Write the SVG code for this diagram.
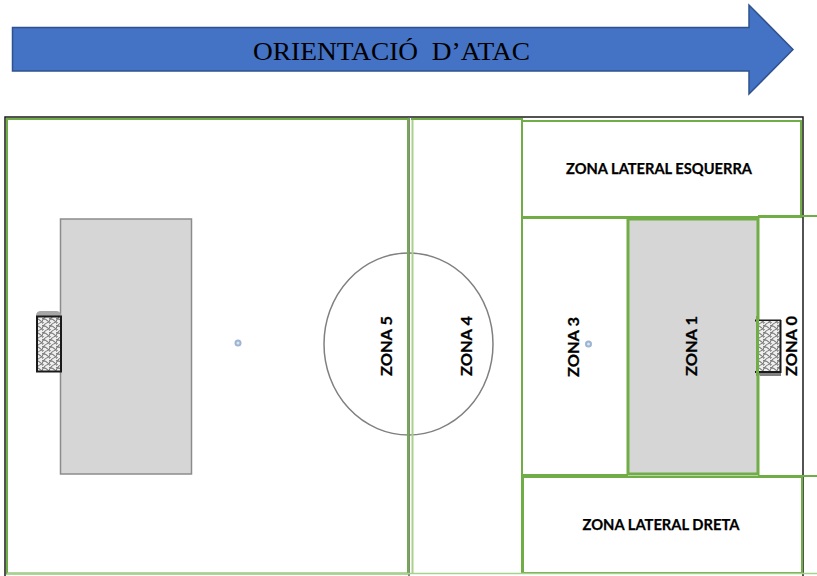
<svg xmlns="http://www.w3.org/2000/svg" width="817" height="576" viewBox="0 0 817 576">
<style>
.g{fill:none;stroke:#70ad47;stroke-width:2}
.gt{fill:none;stroke:#70ad47;stroke-width:3}
.k{fill:none;stroke:#1a1a1a;stroke-width:1.500}
.pen{fill:#d6d6d6;stroke:#8c8c8c;stroke-width:1.500}
.t{font-family:Lato,"Liberation Sans",sans-serif;font-weight:700;font-size:15px;fill:#000;stroke:#000;stroke-width:.25}
.dot{fill:#dbe5f1;stroke:#9db5d3;stroke-width:2}
</style>
<defs>
<pattern id="net" width="7" height="7" patternUnits="userSpaceOnUse">
<rect width="7" height="7" fill="#efefef"/>
<path d="M0 7Q1 2 7 0M0 3.500Q4 3.500 7 7M-1 2Q1 1 2 -1" fill="none" stroke="#7a7a7a" stroke-width="1.100"/>
</pattern>
</defs>
<g id="arrow">
<path d="M12.500 27.500H749V5L793 49.500L749 94V71H12.500Z" fill="#4472c4" stroke="#2f528f" stroke-width="1.500"/>
<text x="253" y="60" font-family="Liberation Serif,serif" font-size="26" fill="#000" textLength="277" lengthAdjust="spacingAndGlyphs" xml:space="preserve">ORIENTACIÓ  D’ATAC</text>
</g>
<g id="field">
<rect class="k" x="5" y="117" width="798" height="460"/>
<line x1="409" y1="117" x2="409" y2="576" stroke="#5f5f5f" stroke-width="1.500"/>
</g>
<g id="left-penalty">
<rect class="pen" x="60.500" y="219" width="131" height="255"/>
</g>
<g id="left-goal">
<path d="M36 316Q36 311 41 311H56Q61 311 61 316Z" fill="#a6a6a6"/>
<rect x="37" y="316.500" width="24" height="55" fill="url(#net)" stroke="#1a1a1a" stroke-width="2"/>
</g>
<g id="left-spot"><circle class="dot" cx="238" cy="343" r="2.500"/></g>
<g id="center-circle"><ellipse cx="408.500" cy="344" rx="84.500" ry="91" fill="none" stroke="#808080" stroke-width="1.500"/></g>
<g id="zona-5">
<rect class="g" x="7" y="119" width="401" height="454.500"/>
<text class="t" transform="translate(392,376) rotate(-90)" textLength="60" lengthAdjust="spacingAndGlyphs">ZONA 5</text>
</g>
<g id="zona-4">
<path d="M412.500 119V573.500" fill="none" stroke="#a9d18e" stroke-width="2"/>
<path class="g" d="M411 119H522V573.500"/>
<text class="t" transform="translate(472,376) rotate(-90)" textLength="60" lengthAdjust="spacingAndGlyphs">ZONA 4</text>
</g>
<g id="zona-lateral-esquerra">
<rect class="g" x="522" y="121" width="279" height="96"/>
<text class="t" x="566" y="173.500" textLength="186" lengthAdjust="spacingAndGlyphs">ZONA LATERAL ESQUERRA</text>
</g>
<g id="zona-1">
<rect x="628" y="219" width="130" height="255" fill="#d6d6d6"/>
<rect class="gt" x="628" y="219" width="130" height="255"/>
<text class="t" transform="translate(697,376) rotate(-90)" textLength="60" lengthAdjust="spacingAndGlyphs">ZONA 1</text>
</g>
<g id="zona-3">
<path class="g" d="M628 218H522V475H628"/>
<text class="t" transform="translate(579,377) rotate(-90)" textLength="60" lengthAdjust="spacingAndGlyphs">ZONA 3</text>
<circle class="dot" cx="588.500" cy="344" r="2.500"/>
</g>
<g id="right-goal">
<path d="M756 370H781V376H760Z" fill="#808080"/>
<path d="M755 320.500H781" stroke="#1a1a1a" stroke-width="2"/>
<rect x="757" y="321" width="23.500" height="50" fill="url(#net)"/>
<path d="M780.500 320V372H755" fill="none" stroke="#1a1a1a" stroke-width="2"/>
<line x1="757.500" y1="316" x2="757.500" y2="376" stroke="#70ad47" stroke-width="3"/>
</g>
<g id="zona-0">
<path class="g" d="M758 216H817M758 476H817"/>
<text class="t" transform="translate(797,376) rotate(-90)" textLength="60" lengthAdjust="spacingAndGlyphs">ZONA 0</text>
</g>
<g id="zona-lateral-dreta">
<rect class="g" x="523" y="477" width="279" height="96"/>
<line x1="7" y1="573.500" x2="817" y2="573.500" stroke="#a9d18e" stroke-width="1.500"/>
<text class="t" x="582.500" y="530" textLength="157" lengthAdjust="spacingAndGlyphs">ZONA LATERAL DRETA</text>
</g>
</svg>
